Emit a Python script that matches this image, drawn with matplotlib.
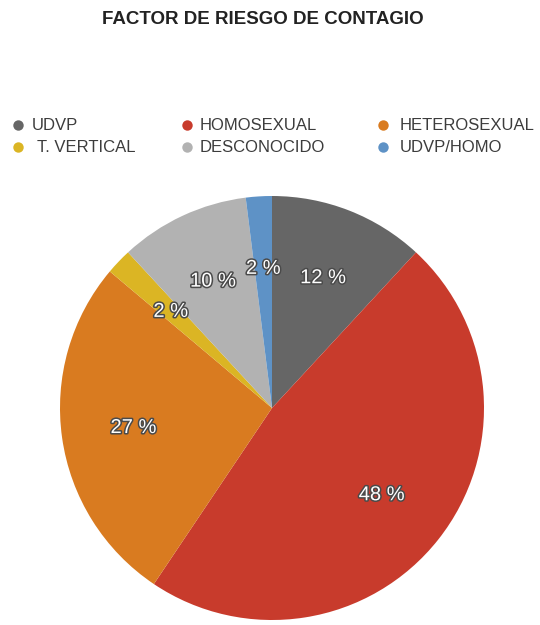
import matplotlib
matplotlib.use("Agg")
import matplotlib.pyplot as plt
import matplotlib.patheffects as pe

plt.rcParams['font.family'] = ['Liberation Sans', 'DejaVu Sans']

title = "FACTOR DE RIESGO DE CONTAGIO"
categories = ["UDVP", "HOMOSEXUAL", "HETEROSEXUAL", "T. VERTICAL", "DESCONOCIDO", "UDVP/HOMO"]
values = [12, 48, 27, 2, 10, 2]
colors = ["#666666", "#c83b2c", "#d97b20", "#dbb524", "#b2b2b2", "#5e92c6"]
# legend grid order (row, col) for each category
legend_rows = [0, 0, 0, 1, 1, 1]
legend_cols = [0, 1, 2, 0, 1, 2]

W, H = 540, 625
fig = plt.figure(figsize=(W / 100, H / 100), dpi=100)

# pie axes: centre (272, 408) px, radius ~212 px
cx, cy, r = 272, 408, 212
ax = fig.add_axes([(cx - r) / W, (H - cy - r) / H, 2 * r / W, 2 * r / H])
wedges, texts, autotexts = ax.pie(
    values, colors=colors, startangle=90, counterclock=False,
    autopct=lambda p: f"{p * sum(values) / 100:.0f} %", pctdistance=0.66,
    wedgeprops=dict(linewidth=0),
    textprops=dict(color="white", fontsize=14.5),
)
for t in autotexts:
    t.set_path_effects([pe.withStroke(linewidth=2.2, foreground="#4a4a4a")])
ax.set_xlim(-1.0, 1.0)
ax.set_ylim(-1.0, 1.0)
ax.set_aspect("equal")
ax.axis("off")

# overlay axes in pixel coordinates for title and legend
ov = fig.add_axes([0, 0, 1, 1])
ov.set_xlim(0, W)
ov.set_ylim(H, 0)
ov.axis("off")

ov.text(263, 20, title, ha="center", va="center", fontsize=13.5,
        fontweight="bold", color="#222222")

col_marker_x = [18, 187, 383]
col_text_x = [32, 200, 400]
row_y = [125, 147]
text_dx = [0, 0, 0, 5, 0, 0]
for cat, col, rr, cc, dx in zip(categories, colors, legend_rows, legend_cols, text_dx):
    ov.plot(col_marker_x[cc], row_y[rr], marker="o", markersize=7.5,
            color=col, markeredgewidth=0)
    ov.text(col_text_x[cc] + dx, row_y[rr], cat, ha="left", va="center",
            fontsize=12, color="#3c3c3c")

fig.savefig("out.png", dpi=100)
